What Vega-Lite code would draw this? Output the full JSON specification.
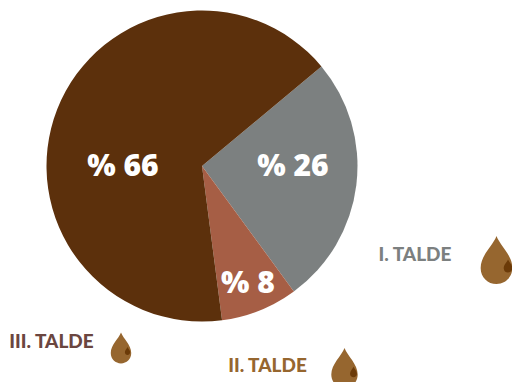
{
"$schema":"https://vega.github.io/schema/vega-lite/v6.json",
"width":404,"height":332,
"autosize":{"type":"none"},
"padding":{"left":0,"top":0,"right":108,"bottom":50},
"background":"white",
"view":{"stroke":null},
"data":{"values":[
{"rank":1,"name":"I. TALDE","value":26,"label":"% 26"},
{"rank":2,"name":"II. TALDE","value":8,"label":"% 8"},
{"rank":3,"name":"III. TALDE","value":66,"label":"% 66"}
]},
"layer":[
{"mark":{"type":"arc","outerRadius":155.5},
"encoding":{
"theta":{"field":"value","type":"quantitative","stack":true,"scale":{"domain":[0,100],"range":[0.876,7.159]}},
"order":{"field":"rank","type":"quantitative"},
"color":{"field":"name","type":"nominal","legend":null,"scale":{"domain":["I. TALDE","II. TALDE","III. TALDE"],"range":["#7C8080","#A65E45","#5C300C"]}}
}},
{"mark":{"type":"text","font":"Open Sans","fontWeight":800,"fontSize":30,"color":"white","baseline":"middle","align":"center"},
"encoding":{
"text":{"field":"label"},
"x":{"field":"rank","type":"quantitative","axis":null,"scale":{"domain":[1,2,3],"range":[293,248,123],"zero":false,"nice":false}},
"y":{"field":"rank","type":"quantitative","axis":null,"scale":{"domain":[1,2,3],"range":[167,284,167],"zero":false,"nice":false}}
}},
{"mark":{"type":"text","font":"Lato","fontWeight":900,"fontSize":19,"baseline":"middle","align":"center"},
"encoding":{
"text":{"field":"name"},
"color":{"field":"name","type":"nominal","legend":null,"scale":{"domain":["I. TALDE","II. TALDE","III. TALDE"],"range":["#7C8080","#96662F","#6B4640"]}},
"x":{"field":"rank","type":"quantitative","axis":null,"scale":{"domain":[1,2,3],"range":[415,267.5,51.5],"zero":false,"nice":false}},
"y":{"field":"rank","type":"quantitative","axis":null,"scale":{"domain":[1,2,3],"range":[255,366,342],"zero":false,"nice":false}}
}},
{"mark":{"type":"point","filled":true,"opacity":1,"color":"#96662F","clip":false,"shape":"M0,-1 C0.15,-0.6 0.66,-0.2 0.66,0.33 C0.66,0.72 0.36,1 0,1 C-0.36,1 -0.66,0.72 -0.66,0.33 C-0.66,-0.2 -0.15,-0.6 0,-1Z"},
"encoding":{
"x":{"field":"rank","type":"quantitative","axis":null,"scale":{"domain":[1,2,3],"range":[496.5,344.5,121],"zero":false,"nice":false}},
"y":{"field":"rank","type":"quantitative","axis":null,"scale":{"domain":[1,2,3],"range":[260,368,348],"zero":false,"nice":false}},
"size":{"field":"rank","type":"quantitative","legend":null,"scale":{"domain":[1,2,3],"range":[2304,1600,961],"zero":false,"nice":false}}
}},
{"mark":{"type":"point","filled":true,"opacity":1,"color":"#6B3A08","clip":false,"shape":"M0,-1 C0.15,-0.6 0.66,-0.2 0.66,0.33 C0.66,0.72 0.36,1 0,1 C-0.36,1 -0.66,0.72 -0.66,0.33 C-0.66,-0.2 -0.15,-0.6 0,-1Z"},
"encoding":{
"x":{"field":"rank","type":"quantitative","axis":null,"scale":{"domain":[1,2,3],"range":[508,353.5,127.5],"zero":false,"nice":false}},
"y":{"field":"rank","type":"quantitative","axis":null,"scale":{"domain":[1,2,3],"range":[266,372,351],"zero":false,"nice":false}},
"size":{"field":"rank","type":"quantitative","legend":null,"scale":{"domain":[1,2,3],"range":[169,110,64],"zero":false,"nice":false}}
}}
],
"resolve":{"scale":{"x":"independent","y":"independent","size":"independent","color":"independent"}}
}
